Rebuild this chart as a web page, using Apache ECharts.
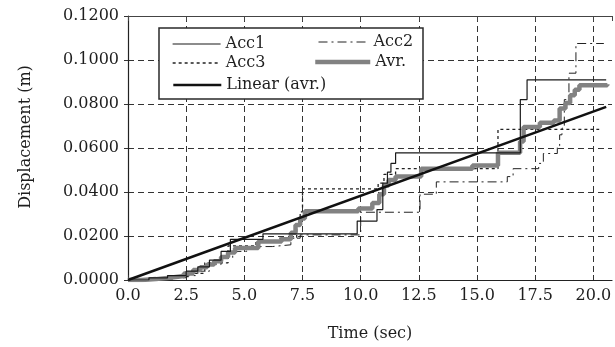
<!DOCTYPE html>
<html>
<head>
<meta charset="utf-8">
<script src="https://cdn.jsdelivr.net/npm/echarts@6/dist/echarts.min.js"></script>
<style>
  html, body { margin: 0; padding: 0; background: #fff; }
  #chart { width: 615px; height: 347px; }
</style>
</head>
<body>
<div id="chart"></div>
<script>
// Time axis ticks (sec) and displacement ticks (m)
const timeTicks = [0, 2.5, 5, 7.5, 10, 12.5, 15, 17.5, 20];
const dispTicks = [0, 0.02, 0.04, 0.06, 0.08, 0.10, 0.12];

// Acc1 record: step changes (time, displacement held from that time)
const timeAcc1 = [0, 0.9, 1.7, 2.5, 3.0, 3.5, 4.0, 4.4, 5.8, 9.85, 10.7, 10.95, 11.15, 11.3, 11.5, 16.86, 17.15, 20.55];
const dispAcc1 = [0, 0.001, 0.002, 0.004, 0.006, 0.009, 0.013, 0.0185, 0.021, 0.0268, 0.032, 0.044, 0.049, 0.053, 0.0578, 0.082, 0.091, 0.091];

// Acc2 record
const timeAcc2 = [0, 1.5, 2.5, 3.0, 3.5, 4.0, 4.5, 5.1, 6.2, 7.0, 7.4, 10.0, 12.55, 13.25, 16.3, 16.55, 17.65, 17.85, 18.45, 18.55, 18.65, 18.75, 18.95, 19.25, 20.45];
const dispAcc2 = [0, 0.001, 0.002, 0.004, 0.007, 0.010, 0.013, 0.0152, 0.016, 0.019, 0.0205, 0.0308, 0.039, 0.0446, 0.047, 0.0506, 0.053, 0.0575, 0.061, 0.066, 0.069, 0.082, 0.094, 0.1075, 0.1075];

// Acc3 record
const timeAcc3 = [0, 1.0, 2.0, 2.6, 3.3, 4.3, 5.5, 6.5, 7.25, 7.4, 7.5, 10.75, 11.0, 11.5, 15.9, 20.25];
const dispAcc3 = [0, 0.0005, 0.0015, 0.003, 0.0078, 0.0155, 0.0175, 0.019, 0.025, 0.031, 0.0414, 0.044, 0.048, 0.0506, 0.0685, 0.0685];

// Average of the three records
const timeAvr = [0, 0.6, 1.2, 1.8, 2.4, 2.8, 3.1, 3.4, 3.7, 4.0, 4.3, 4.6, 5.6, 6.6, 7.0, 7.2, 7.4, 7.6, 9.9, 10.5, 10.8, 11.0, 11.2, 11.5, 12.6, 14.8, 15.9, 16.85, 17.0, 17.7, 18.3, 18.55, 18.8, 19.0, 19.2, 19.4, 20.6];
const dispAvr = [0, 0.0004, 0.001, 0.0018, 0.003, 0.0045, 0.0058, 0.007, 0.0085, 0.0105, 0.0125, 0.0145, 0.0175, 0.0185, 0.0215, 0.025, 0.028, 0.0313, 0.0325, 0.035, 0.039, 0.043, 0.0455, 0.047, 0.0506, 0.052, 0.0578, 0.063, 0.0695, 0.0715, 0.0725, 0.078, 0.0805, 0.084, 0.0865, 0.0885, 0.089];

// Linear fit of the average
const timeLinear = [0, 20.55];
const dispLinear = [0, 0.0787];

const zip = (xs, ys) => xs.map((x, i) => [x, ys[i]]);

const FONT = 'DejaVu Serif';
const INK = '#1e1e1e';

const chart = echarts.init(document.getElementById('chart'), null, { renderer: 'canvas' });

// One legend block per entry so each sits at its own spot inside the framed box
const legendItem = (name, left, top, width, lineWidth) => ({
  data: [name],
  left: left,
  top: top,
  padding: 0,
  itemWidth: width,
  itemHeight: 16,
  selectedMode: false,
  z: 20,
  itemStyle: { opacity: 0, color: 'transparent', borderWidth: 0 },
  lineStyle: { width: lineWidth },
  textStyle: { fontFamily: FONT, fontSize: 16, color: INK, lineHeight: 16 }
});

const option = {
  animation: false,
  backgroundColor: '#fff',
  grid: { left: 128, right: 3, top: 16, bottom: 67 },
  xAxis: [
    {
      type: 'value',
      min: timeTicks[0],
      max: 20.8,
      interval: timeTicks[1] - timeTicks[0],
      name: 'Time (sec)',
      nameLocation: 'middle',
      nameGap: 46,
      nameTextStyle: { fontFamily: FONT, fontSize: 16, color: INK },
      axisLine: { show: true, onZero: false, lineStyle: { color: '#222', width: 1.2 } },
      axisTick: { show: true, inside: true, length: 5, lineStyle: { color: '#333' } },
      axisLabel: {
        fontFamily: FONT, fontSize: 16, color: INK, margin: 8,
        showMaxLabel: false,
        formatter: v => v.toFixed(1)
      },
      splitLine: {
        show: true, showMinLine: false, showMaxLine: false,
        lineStyle: { color: '#333', width: 1, type: [6, 4] }
      }
    },
    {
      type: 'value',
      position: 'top',
      min: timeTicks[0],
      max: 20.8,
      interval: timeTicks[1] - timeTicks[0],
      axisLine: { show: true, onZero: false, lineStyle: { color: '#444', width: 1.2 } },
      axisTick: { show: true, inside: true, length: 5, lineStyle: { color: '#444' } },
      axisLabel: { show: false },
      splitLine: { show: false }
    }
  ],
  yAxis: {
    type: 'value',
    min: dispTicks[0],
    max: dispTicks[dispTicks.length - 1],
    interval: dispTicks[1] - dispTicks[0],
    name: 'Displacement (m)',
    nameLocation: 'middle',
    nameGap: 94,
    nameTextStyle: { fontFamily: FONT, fontSize: 16, color: INK, padding: [0, 0, 0, 22] },
    axisLine: { show: true, onZero: false, lineStyle: { color: '#222', width: 1.2 } },
    axisTick: { show: true, inside: false, length: 4, lineStyle: { color: '#333' } },
    axisLabel: {
      fontFamily: FONT, fontSize: 16, color: INK, margin: 9,
      formatter: v => v.toFixed(4)
    },
    splitLine: {
      show: true, showMinLine: false, showMaxLine: false,
      lineStyle: { color: '#333', width: 1, type: [6, 4] }
    }
  },
  legend: [
    legendItem('Acc1', 172, 36, 48, 1.2),
    legendItem('Acc2', 318, 34, 50, 1),
    legendItem('Acc3', 172, 55, 48, 1.3),
    legendItem('Avr.', 313, 54, 55, 4.5),
    legendItem('Linear (avr.)', 172, 77, 48, 2.6)
  ],
  graphic: [
    {
      type: 'rect',
      z: 10,
      shape: { x: 159, y: 28, width: 264, height: 71 },
      style: { fill: '#fff', stroke: '#2a2a2a', lineWidth: 1.5 }
    }
  ],
  series: [
    {
      name: 'Acc3', type: 'line', step: 'end', symbol: 'none',
      data: zip(timeAcc3, dispAcc3),
      lineStyle: { color: '#222', width: 1.3, type: [3, 3] },
      itemStyle: { color: '#222' }
    },
    {
      name: 'Acc2', type: 'line', step: 'end', symbol: 'none',
      data: zip(timeAcc2, dispAcc2),
      lineStyle: { color: '#222', width: 1, type: [9, 4, 2, 4] },
      itemStyle: { color: '#222' }
    },
    {
      name: 'Avr.', type: 'line', step: 'end', symbol: 'none',
      data: zip(timeAvr, dispAvr),
      lineStyle: { color: '#828282', width: 4.5 },
      itemStyle: { color: '#828282' }
    },
    {
      name: 'Acc1', type: 'line', step: 'end', symbol: 'none',
      data: zip(timeAcc1, dispAcc1),
      lineStyle: { color: '#1a1a1a', width: 1.2 },
      itemStyle: { color: '#1a1a1a' }
    },
    {
      name: 'Linear (avr.)', type: 'line', symbol: 'none',
      data: zip(timeLinear, dispLinear),
      lineStyle: { color: '#111', width: 2.6 },
      itemStyle: { color: '#111' }
    }
  ]
};

chart.setOption(option);
</script>
</body>
</html>
